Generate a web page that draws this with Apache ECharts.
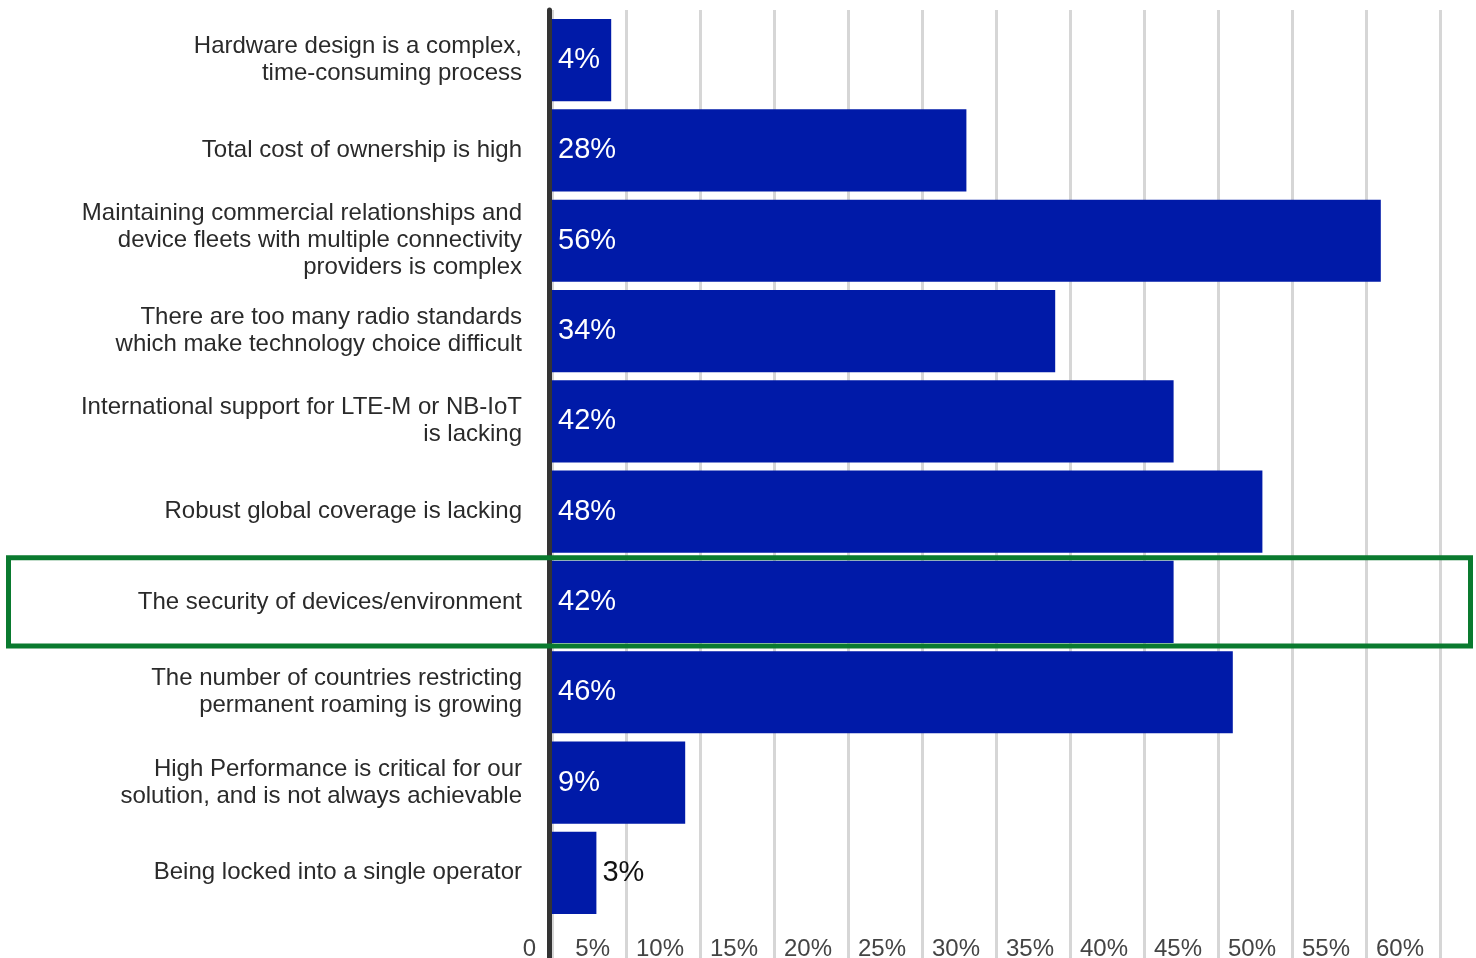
<!DOCTYPE html>
<html>
<head>
<meta charset="utf-8">
<script src="https://cdn.jsdelivr.net/npm/echarts@6/dist/echarts.min.js"></script>
<style>
  html, body { margin: 0; padding: 0; background: #fff; }
  #chart { width: 1476px; height: 958px; }
</style>
</head>
<body>
<div id="chart"></div>
<script>
// Survey: challenges faced with cellular IoT connectivity (share of respondents, %)
const categories = [
  'Hardware design is a complex,\ntime-consuming process',
  'Total cost of ownership is high',
  'Maintaining commercial relationships and\ndevice fleets with multiple connectivity\nproviders is complex',
  'There are too many radio standards\nwhich make technology choice difficult',
  'International support for LTE-M or NB-IoT\nis lacking',
  'Robust global coverage is lacking',
  'The security of devices/environment',
  'The number of countries restricting\npermanent roaming is growing',
  'High Performance is critical for our\nsolution, and is not always achievable',
  'Being locked into a single operator'
];
const values = [4, 28, 56, 34, 42, 48, 42, 46, 9, 3];
const tickLabels = ['0', '5%', '10%', '15%', '20%', '25%', '30%', '35%', '40%', '45%', '50%', '55%', '60%'];
const highlightCategory = 'The security of devices/environment';

const FONT = '"Liberation Sans", Arial, sans-serif';
const BAR = '#001aa8';

const chart = echarts.init(document.getElementById('chart'), null, { renderer: 'canvas' });

const barData = values.map(v => ({
  value: v,
  label: v < 4
    ? { position: 'right', distance: 6, color: '#111' }
    : { position: 'insideLeft', distance: 6, color: '#fff' }
}));

chart.setOption({
  animation: false,
  backgroundColor: '#fff',
  textStyle: { fontFamily: FONT },
  grid: [
    // bars
    { left: 552, right: 36, top: 15, bottom: 40, outerBoundsMode: 'none' },
    // vertical gridlines and percentage ticks
    { left: 552, right: 36, top: 10, bottom: 0, outerBoundsMode: 'none' },
    // dark baseline on the left
    { left: 549, right: 36, top: 10, bottom: 0, outerBoundsMode: 'none' }
  ],
  xAxis: [
    { gridIndex: 0, type: 'value', min: 0, max: 60, show: false },
    {
      gridIndex: 1, type: 'value', min: 0, max: 60, interval: 5,
      axisLine: { show: false },
      axisTick: { show: false },
      splitLine: { show: true, lineStyle: { color: '#d6d6d6', width: 3 } },
      axisLabel: {
        inside: false,
        margin: -21,
        verticalAlign: 'top',
        align: 'right',
        padding: [0, 16, 0, 0],
        fontSize: 24,
        color: '#444',
        fontFamily: FONT,
        showMinLabel: true,
        showMaxLabel: true,
        formatter: v => tickLabels[Math.round(v / 5)]
      }
    },
    { gridIndex: 2, type: 'value', min: 0, max: 60, show: false }
  ],
  yAxis: [
    {
      gridIndex: 0, type: 'category', inverse: true, data: categories,
      axisLine: { show: false },
      axisTick: { show: false },
      splitLine: { show: false },
      axisLabel: {
        margin: 30,
        fontSize: 24,
        lineHeight: 27,
        color: '#2a2a2a',
        fontFamily: FONT,
        align: 'right'
      }
    },
    {
      gridIndex: 1, type: 'value', min: 0, max: 1,
      axisLine: { show: false },
      axisTick: { show: false },
      axisLabel: { show: false },
      splitLine: { show: false }
    },
    {
      gridIndex: 2, type: 'value', min: 0, max: 1,
      z: 5,
      axisLine: { show: true, lineStyle: { color: '#333', width: 5 } },
      axisTick: { show: false },
      axisLabel: { show: false },
      splitLine: { show: false }
    }
  ],
  series: [{
    type: 'bar',
    xAxisIndex: 0,
    yAxisIndex: 0,
    data: barData,
    barCategoryGap: '9%',
    itemStyle: { color: BAR },
    label: {
      show: true,
      formatter: p => p.value + '%',
      fontSize: 29,
      fontFamily: FONT
    },
    z: 3
  }]
});

// Outline around the highlighted row, spanning label and bar area
const idx = categories.indexOf(highlightCategory);
const cy = chart.convertToPixel({ yAxisIndex: 0 }, idx);
const bandH = chart.convertToPixel({ yAxisIndex: 0 }, 1) - chart.convertToPixel({ yAxisIndex: 0 }, 0);
chart.setOption({
  graphic: [{
    type: 'rect',
    z: 10,
    shape: { x: 8.5, y: cy - bandH / 2 + 1, width: 1462, height: bandH - 2 },
    style: { fill: 'none', stroke: '#0a7a2f', lineWidth: 5 }
  }]
});
</script>
</body>
</html>
